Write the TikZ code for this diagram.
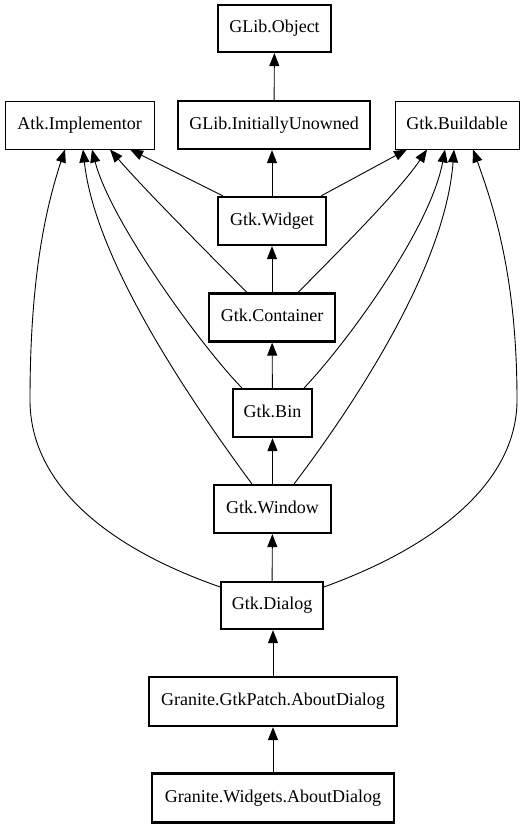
\documentclass[tikz,border=0pt]{standalone}
\usepackage{fontspec}
\setmainfont{Liberation Serif}
\usetikzlibrary{arrows.meta}
\begin{document}
\begin{tikzpicture}[x=1pt,y=-1pt,
  cls/.style={draw,line width=0.9pt,minimum height=48pt,inner sep=0pt,font=\fontsize{18}{20}\selectfont,text height=12pt,text depth=4pt},
  bold/.style={cls,line width=2.2pt},
  inh/.style={line width=0.9pt,-{Triangle[length=13pt,width=10pt]}}]
\useasboundingbox (0,0) rectangle (524,827);
\node[bold,minimum width=113pt,minimum height=47pt] (obj) at (274.5,28.5) {GLib.Object};
\node[cls,minimum width=149pt] (atk) at (79.5,125) {Atk.Implementor};
\node[bold,minimum width=192pt] (iu) at (274,125) {GLib.InitiallyUnowned};
\node[cls,minimum width=124pt] (build) at (457,125) {Gtk.Buildable};
\node[bold,minimum width=108pt] (widget) at (272,221) {Gtk.Widget};
\node[bold,minimum width=126pt] (cont) at (272,317.5) {Gtk.Container};
\node[bold,minimum width=79pt] (bin) at (272.5,413) {Gtk.Bin};
\node[bold,minimum width=117pt] (win) at (272.5,509) {Gtk.Window};
\node[bold,minimum width=102pt,minimum height=47pt] (dlg) at (272,605.5) {Gtk.Dialog};
\node[bold,minimum width=248pt,minimum height=49pt] (gp) at (273,701.5) {Granite.GtkPatch.AboutDialog};
\node[bold,minimum width=242pt,minimum height=49pt] (gw) at (273,798) {Granite.Widgets.AboutDialog};

% straight chain
\draw[inh] (iu) -- (obj);
\draw[inh] (widget) -- (iu.south -| widget);
\draw[inh] (cont) -- (widget);
\draw[inh] (bin) -- (cont);
\draw[inh] (win) -- (bin);
\draw[inh] (dlg) -- (win);
\draw[inh] (gp) -- (dlg.south -| gp);
\draw[inh] (gw) -- (gp);

% to Atk.Implementor
\draw[inh] ([xshift=6pt]widget.north west) -- ([xshift=50.5pt]atk.south);
\draw[inh] ([xshift=39pt]cont.north west) .. controls (205,250) and (145,190) .. ([xshift=30.5pt]atk.south);
\draw[inh] ([xshift=10pt]bin.north west) .. controls (200,345) and (110,220) .. ([xshift=12.5pt]atk.south);
\draw[inh] ([xshift=39pt]win.north west) .. controls (190,400) and (95,260) .. ([xshift=3.5pt]atk.south);
\draw[inh] ([yshift=-6pt]dlg.north west) .. controls (100,545) and (30,480) .. (30,400) .. controls (30,280) and (45,210) .. ([xshift=-14.5pt]atk.south);

% to Gtk.Buildable
\draw[inh] ([xshift=-6pt]widget.north east) -- ([xshift=-50pt]build.south);
\draw[inh] ([xshift=-38pt]cont.north east) .. controls (340,250) and (400,190) .. ([xshift=-30pt]build.south);
\draw[inh] ([xshift=-9pt]bin.north east) .. controls (345,345) and (430,230) .. ([xshift=-12pt]build.south);
\draw[inh] ([xshift=-38pt]win.north east) .. controls (350,410) and (445,270) .. ([xshift=-3pt]build.south);
\draw[inh] ([yshift=-6pt]dlg.north east) .. controls (440,545) and (517,480) .. (517,400) .. controls (517,280) and (495,210) .. ([xshift=16pt]build.south);
\end{tikzpicture}
\end{document}
